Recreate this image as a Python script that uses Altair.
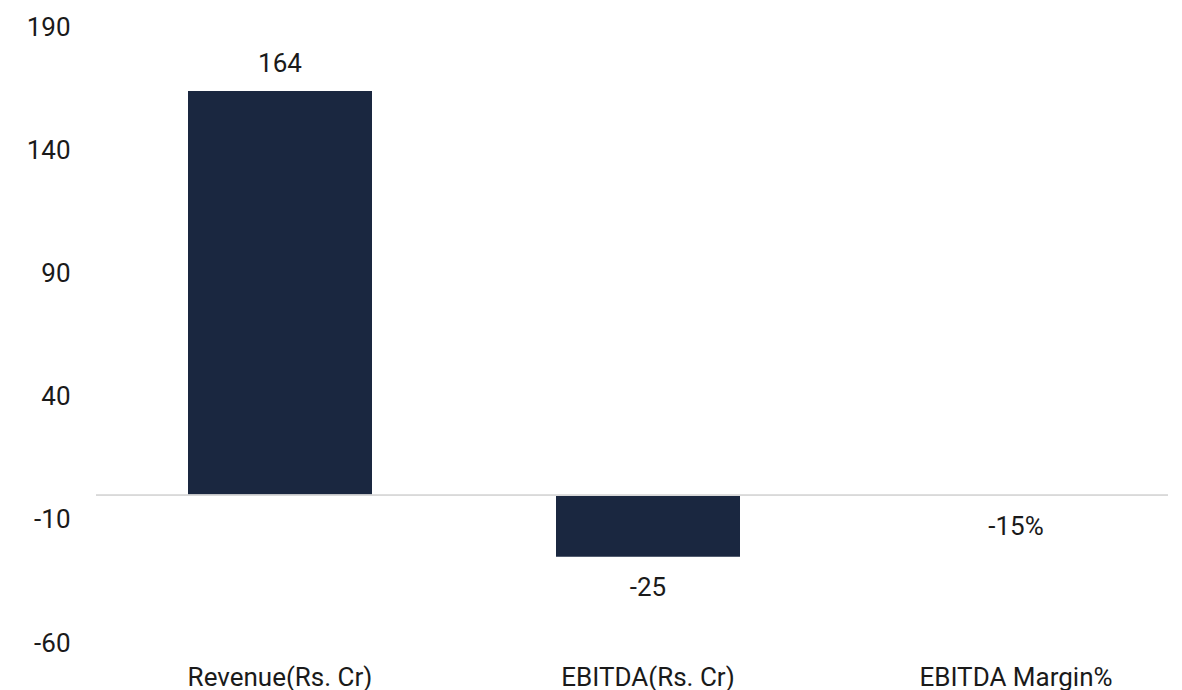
import altair as alt
import pandas as pd

# Metrics and their values (margin is a fraction, the others are Rs. Cr)
categories = ["Revenue(Rs. Cr)", "EBITDA(Rs. Cr)", "EBITDA Margin%"]
values = [164, -25, -0.15]
is_percent = [False, False, True]
y_ticks = [-60, -10, 40, 90, 140, 190]

labels = [f"{v:.0%}" if p else f"{v:g}" for v, p in zip(values, is_percent)]
df = pd.DataFrame({"metric": categories, "value": values, "label": labels})

FONT = "Roboto"
SIZE = 26
BAR = "#1a2740"
TEXT = "#1a1a1a"

x = alt.X(
    "metric:N",
    sort=categories,
    title=None,
    scale=alt.Scale(range=[0, 1104], paddingInner=0.5, paddingOuter=0.25),
    axis=alt.Axis(domain=False, ticks=False, labelAngle=0, labelFontSize=SIZE,
                  labelFont=FONT, labelColor=TEXT, labelPadding=21, labelLimit=0),
)
y = alt.Y(
    "value:Q",
    title=None,
    scale=alt.Scale(domain=[-60, 190], nice=False, zero=False),
    axis=alt.Axis(values=y_ticks, domain=False, ticks=False, grid=False,
                  labelExpr="datum.value + ''",
                  labelFontSize=SIZE, labelFont=FONT, labelColor=TEXT, labelPadding=26),
)

base = alt.Chart(df)

bars = base.mark_bar(color=BAR).encode(x=x, y=y, y2=alt.datum(0))

zero_line = base.mark_rule(color="#d9d9d9", strokeWidth=1.5).encode(y=alt.datum(0))

pos_text = base.transform_filter("datum.value > 0").mark_text(
    font=FONT, fontSize=SIZE, color=TEXT, baseline="middle", dy=-27
).encode(x=x, y=y, text="label:N")

neg_text = base.transform_filter("datum.value <= 0").mark_text(
    font=FONT, fontSize=SIZE, color=TEXT, baseline="middle", dy=31
).encode(x=x, y=y, text="label:N")

chart = (
    alt.layer(bars, zero_line, pos_text, neg_text)
    .properties(width=1072, height=616, autosize=alt.AutoSizeParams(type="none"),
                padding={"left": 96, "top": 27, "right": 14, "bottom": 47},
                background="white")
    .configure_view(strokeWidth=0, stroke=None)
)

chart.save("out.html", embed_options={"renderer": "svg", "actions": False})
